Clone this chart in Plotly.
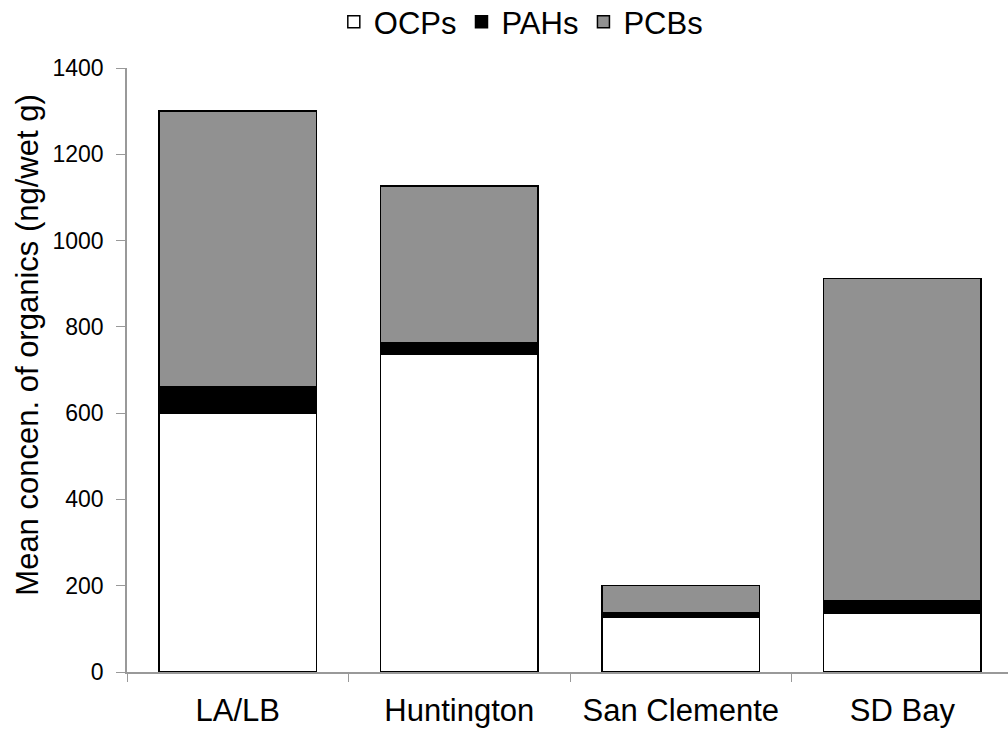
import plotly.graph_objects as go

sites = ["LA/LB", "Huntington", "San Clemente", "SD Bay"]
ocps = [600, 737, 128, 136]
pahs = [62, 26, 10, 29]
pcbs = [638, 364, 62, 747]

series = [("OCPs", ocps, "#ffffff"), ("PAHs", pahs, "#000000"), ("PCBs", pcbs, "#919191")]
y_title = "Mean concen. of organics (ng/wet g)"

fig = go.Figure()
for name, vals, col in series:
    fig.add_trace(go.Bar(x=sites, y=vals, name=name,
                         marker=dict(color=col, line=dict(color="#000000", width=1.5))))

fig.update_layout(
    width=1008, height=732,
    barmode="stack", bargap=0.29,
    paper_bgcolor="white", plot_bgcolor="white",
    margin=dict(l=127, r=0, t=68, b=60, autoexpand=False),
    font=dict(family="Liberation Sans, Arial, sans-serif", color="#000000"),
    showlegend=True,
    legend=dict(orientation="h", x=0.447, xanchor="center", y=1.076, yanchor="middle",
                font=dict(size=31), traceorder="normal", itemwidth=30, tracegroupgap=0),
    xaxis=dict(range=[-0.5, 3.477], showline=True, linecolor="#999999", linewidth=1.5,
               ticks="outside", tickson="boundaries", ticklen=8, tickcolor="#999999",
               tickfont=dict(size=31), ticklabelstandoff=10, showgrid=False),
    yaxis=dict(range=[0, 1400], dtick=200, showline=True, linecolor="#999999", linewidth=1.5,
               ticks="outside", ticklen=9, tickcolor="#999999", tickfont=dict(size=23),
               ticklabelstandoff=8, showgrid=False, zeroline=False),
    annotations=[dict(text=y_title, textangle=-90, xref="paper", yref="paper",
                      x=-0.113, y=0.541, xanchor="center", yanchor="middle",
                      showarrow=False, font=dict(size=31))],
)

fig.write_html("out.html")
